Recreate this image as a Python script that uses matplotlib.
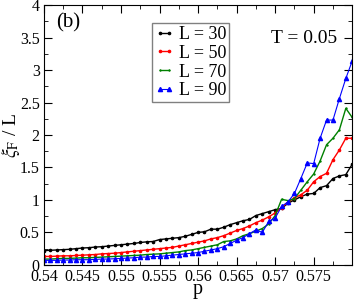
import numpy as np
import matplotlib
matplotlib.use("Agg")
import matplotlib.pyplot as plt
from matplotlib.ticker import MultipleLocator, FormatStrFormatter

# --- data ----------------------------------------------------------------
p = 0.54 + np.arange(49) * (0.04 / 48)

xi_L30 = [0.22, 0.225, 0.23, 0.235, 0.24, 0.25, 0.26, 0.265, 0.275, 0.28,
          0.29, 0.30, 0.31, 0.32, 0.33, 0.345, 0.355, 0.36, 0.39, 0.40,
          0.41, 0.42, 0.44, 0.47, 0.50, 0.51, 0.55, 0.55, 0.58, 0.62,
          0.65, 0.68, 0.70, 0.76, 0.79, 0.82, 0.85, 0.87, 0.95, 1.00,
          1.05, 1.09, 1.10, 1.19, 1.22, 1.33, 1.37, 1.39, 1.55]
xi_L50 = [0.13, 0.13, 0.135, 0.14, 0.14, 0.145, 0.15, 0.155, 0.16, 0.17,
          0.175, 0.18, 0.19, 0.20, 0.21, 0.22, 0.23, 0.24, 0.25, 0.26,
          0.27, 0.29, 0.31, 0.33, 0.35, 0.37, 0.40, 0.42, 0.45, 0.49,
          0.53, 0.56, 0.60, 0.65, 0.69, 0.74, 0.80, 0.88, 0.97, 1.03,
          1.08, 1.15, 1.28, 1.36, 1.41, 1.62, 1.77, 1.95, 1.95]
xi_L70 = [0.09, 0.09, 0.095, 0.10, 0.10, 0.105, 0.11, 0.11, 0.115, 0.12,
          0.125, 0.13, 0.135, 0.14, 0.145, 0.15, 0.16, 0.165, 0.17, 0.18,
          0.19, 0.20, 0.22, 0.23, 0.25, 0.27, 0.29, 0.31, 0.36, 0.37,
          0.40, 0.45, 0.48, 0.52, 0.56, 0.63, 0.76, 1.01, 0.99, 1.02,
          1.15, 1.28, 1.40, 1.60, 1.85, 1.95, 2.08, 2.41, 2.27]
xi_L90 = [0.07, 0.07, 0.07, 0.075, 0.075, 0.08, 0.08, 0.08, 0.085, 0.09,
          0.09, 0.095, 0.10, 0.105, 0.11, 0.12, 0.12, 0.13, 0.13, 0.14,
          0.15, 0.16, 0.17, 0.18, 0.19, 0.21, 0.23, 0.25, 0.28, 0.33,
          0.38, 0.42, 0.48, 0.54, 0.50, 0.67, 0.72, 0.90, 0.97, 1.10,
          1.33, 1.57, 1.56, 1.95, 2.23, 2.23, 2.56, 2.87, 3.14]

labels = ["L = 30", "L = 50", "L = 70", "L = 90"]
xticks = [0.54, 0.545, 0.55, 0.555, 0.56, 0.565, 0.57, 0.575]

# --- style -----------------------------------------------------------------
plt.rcParams["font.family"] = ["Liberation Serif", "DejaVu Serif"]
plt.rcParams["mathtext.fontset"] = "stix"

fig = plt.figure(figsize=(3.54, 3.0), dpi=100)
ax = fig.add_axes([0.124, 0.117, 0.871, 0.866])

ax.plot(p, xi_L30, color="black", lw=1, marker="o", ms=1.6, label=labels[0])
ax.plot(p, xi_L50, color="red", lw=1, marker="o", ms=1.6, label=labels[1])
ax.plot(p, xi_L70, color="green", lw=1, marker="+", ms=2, label=labels[2])
ax.plot(p, xi_L90, color="blue", lw=0.8, marker="^", ms=3, label=labels[3])

ax.set_xlim(0.54, 0.58)
ax.set_ylim(0, 4)
ax.set_xticks(xticks)
ax.xaxis.set_minor_locator(MultipleLocator(0.0025))
ax.yaxis.set_major_locator(MultipleLocator(0.5))
ax.yaxis.set_minor_locator(MultipleLocator(0.25))
ax.yaxis.set_major_formatter(FormatStrFormatter("%g"))
ax.xaxis.set_major_formatter(FormatStrFormatter("%g"))
ax.tick_params(which="both", direction="in", top=True, right=True,
               labelsize=11.5)
ax.tick_params(axis="x", pad=3)
ax.tick_params(axis="y", pad=3)
ax.tick_params(which="major", length=6)
ax.tick_params(which="minor", length=3)

ax.set_xlabel("p", fontsize=14.5)
ax.xaxis.set_label_coords(0.5, -0.058)
ax.set_ylabel(r"$\xi_{\mathrm{F}}$ / L", fontsize=14)
ax.yaxis.set_label_coords(-0.072, 0.5)

ax.text(0.04, 0.93, "(b)", transform=ax.transAxes, fontsize=15,
        va="center", ha="left")
ax.text(0.735, 0.87, "T = 0.05", transform=ax.transAxes, fontsize=14,
        va="center", ha="left")

leg = ax.legend(loc="upper left", bbox_to_anchor=(0.35, 0.93), fontsize=13,
                handlelength=1.1, handletextpad=0.25, borderpad=0.15,
                labelspacing=0.1, borderaxespad=0, fancybox=False,
                framealpha=1, numpoints=2)
leg.get_frame().set_edgecolor("gray")
leg.get_frame().set_linewidth(1)

fig.savefig("out.png", dpi=100)
